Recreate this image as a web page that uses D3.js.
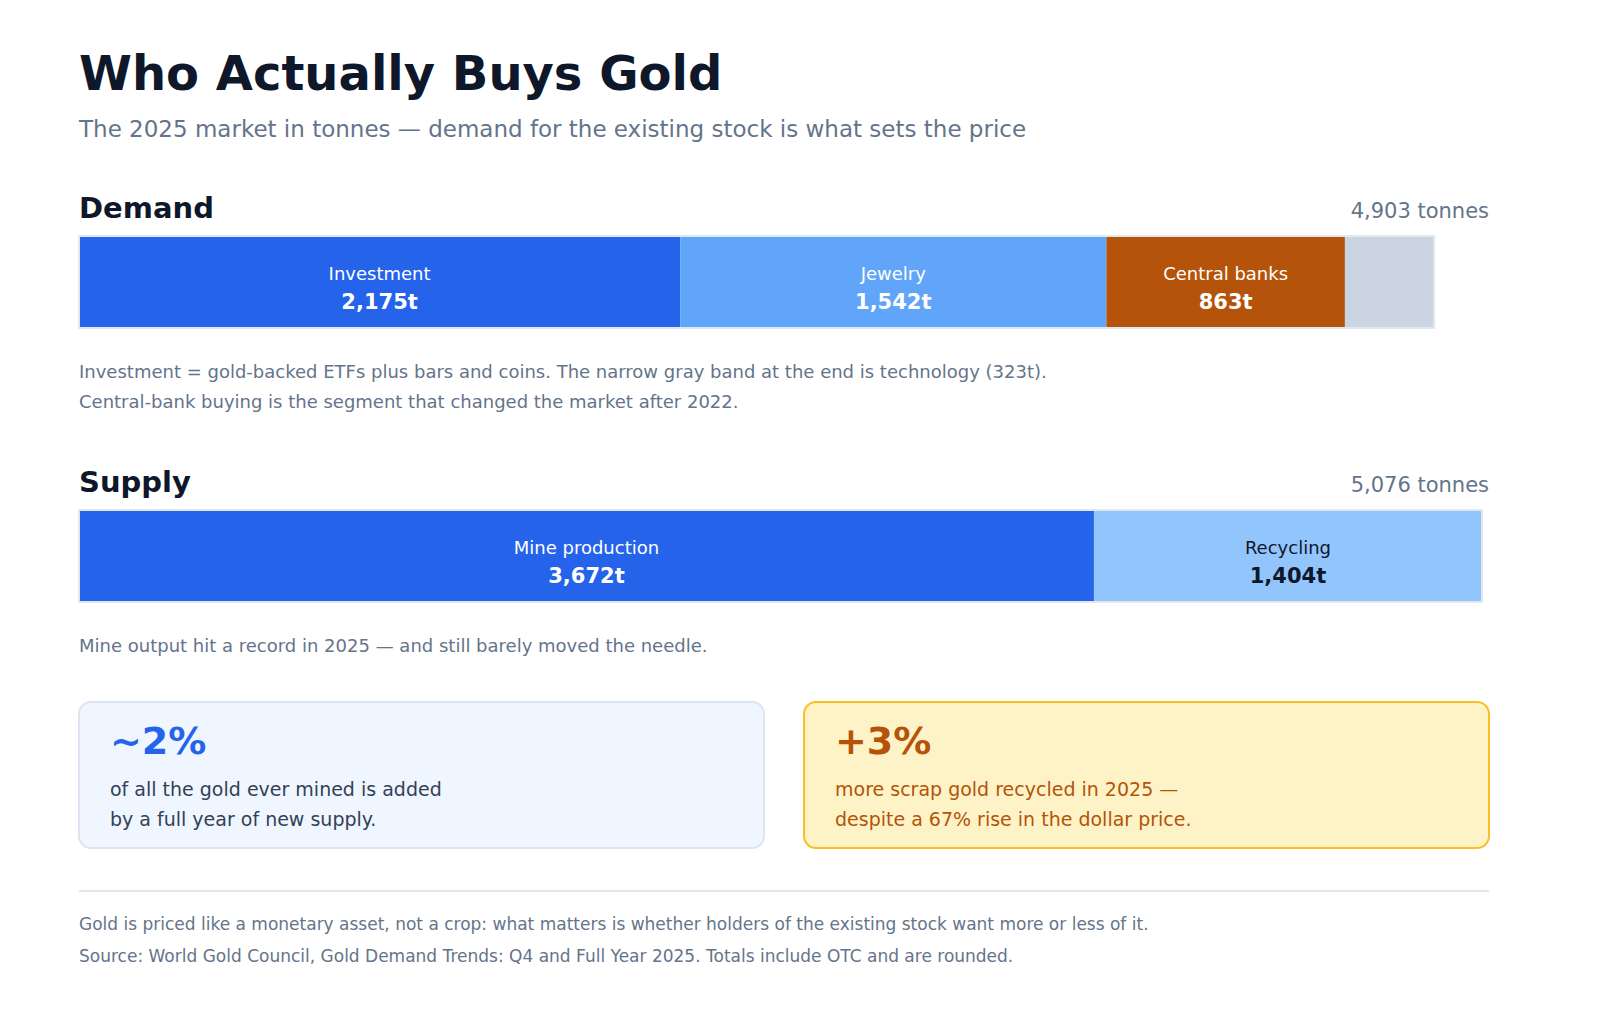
<!DOCTYPE html>
<html><head><meta charset="utf-8">
<script src="https://cdn.jsdelivr.net/npm/d3@7"></script>
<style>body{margin:0;background:#fff;font-family:"DejaVu Sans","Noto Sans",sans-serif}</style>
</head><body><svg id="c" width="1600" height="1010"></svg>
<script>
const demandCats=["Investment","Jewelry","Central banks","Technology"];
const demandVals=[2175,1542,863,323];
const demandColors=["#2563eb","#60a5fa","#b45309","#cbd5e1"];
const demandText=["#fff","#fff","#fff",null];
const supplyCats=["Mine production","Recycling"];
const supplyVals=[3672,1404];
const supplyColors=["#2563eb","#93c5fd"];
const supplyText=["#fff","#0f172a"];

const svg=d3.select("#c");
const x=d3.scaleLinear().domain([0,5076]).range([79,1482]);
const fmt=d3.format(",");
const t=(X,Y,s,o)=>{const e=svg.append("text").attr("x",X).attr("y",Y).text(s)
 .attr("font-size",o.size).attr("fill",o.fill).attr("font-weight",o.w||400).attr("text-anchor",o.a||"start");if(o.ls)e.attr("letter-spacing",o.ls);return e;};

t(79,90,"Who Actually Buys Gold",{size:48,fill:"#0f172a",w:700});
t(79,137,"The 2025 market in tonnes — demand for the existing stock is what sets the price",{size:23,fill:"#64748b"});

function bar(cats,vals,cols,tc,y0,title,total){
  t(79,y0-18,title,{size:29,fill:"#0f172a",w:700});
  t(1489,y0-18,fmt(total)+" tonnes",{size:21,fill:"#64748b",w:400,a:"end"});
  let cum=0;const segs=vals.map((v,i)=>{const s={c:cats[i],v,x0:cum,col:cols[i],tc:tc[i]};cum+=v;return s;});
  const g=svg.append("g");
  g.selectAll("rect").data(segs).join("rect").attr("x",d=>x(d.x0)).attr("y",y0).attr("width",d=>x(d.x0+d.v)-x(d.x0)).attr("height",92).attr("fill",d=>d.col);
  svg.append("rect").attr("x",x(0)).attr("y",y0).attr("width",x(cum)-x(0)).attr("height",92).attr("fill","none").attr("stroke","#e2e8f0").attr("stroke-width",2);
  segs.filter(d=>d.tc).forEach(d=>{const cx=(x(d.x0)+x(d.x0+d.v))/2;
    t(cx,y0+44,d.c,{size:18,fill:d.tc,w:400,a:"middle"});
    t(cx,y0+73,fmt(d.v)+"t",{size:21,fill:d.tc,w:700,a:"middle"});});
}
bar(demandCats,demandVals,demandColors,demandText,236,"Demand",4903);
bar(supplyCats,supplyVals,supplyColors,supplyText,510,"Supply",5076);

const note={size:18,fill:"#64748b"};
t(79,378,"Investment = gold-backed ETFs plus bars and coins. The narrow gray band at the end is technology (323t).",note);
t(79,408,"Central-bank buying is the segment that changed the market after 2022.",note);
t(79,652,"Mine output hit a record in 2025 — and still barely moved the needle.",note);

function card(X,fill,stroke,big,bc,l1,l2,tc){
  svg.append("rect").attr("x",X).attr("y",702).attr("width",685).attr("height",146).attr("rx",12).attr("fill",fill).attr("stroke",stroke).attr("stroke-width",2);
  t(X+31,754,big,{size:38,fill:bc,w:700});
  t(X+31,796,l1,{size:19,fill:tc});
  t(X+31,826,l2,{size:19,fill:tc});
}
card(79,"#eff6ff","#dbe4f0","~2%","#2563eb","of all the gold ever mined is added","by a full year of new supply.","#334155");
card(804,"#fef3c7","#fbbf24","+3%","#b45309","more scrap gold recycled in 2025 —","despite a 67% rise in the dollar price.","#b45309");

svg.append("line").attr("x1",79).attr("x2",1489).attr("y1",891).attr("y2",891).attr("stroke","#e2e8f0").attr("stroke-width",2);
const foot={size:17,fill:"#64748b"};
t(79,930,"Gold is priced like a monetary asset, not a crop: what matters is whether holders of the existing stock want more or less of it.",foot);
t(79,962,"Source: World Gold Council, Gold Demand Trends: Q4 and Full Year 2025. Totals include OTC and are rounded.",foot);
</script></body></html>
